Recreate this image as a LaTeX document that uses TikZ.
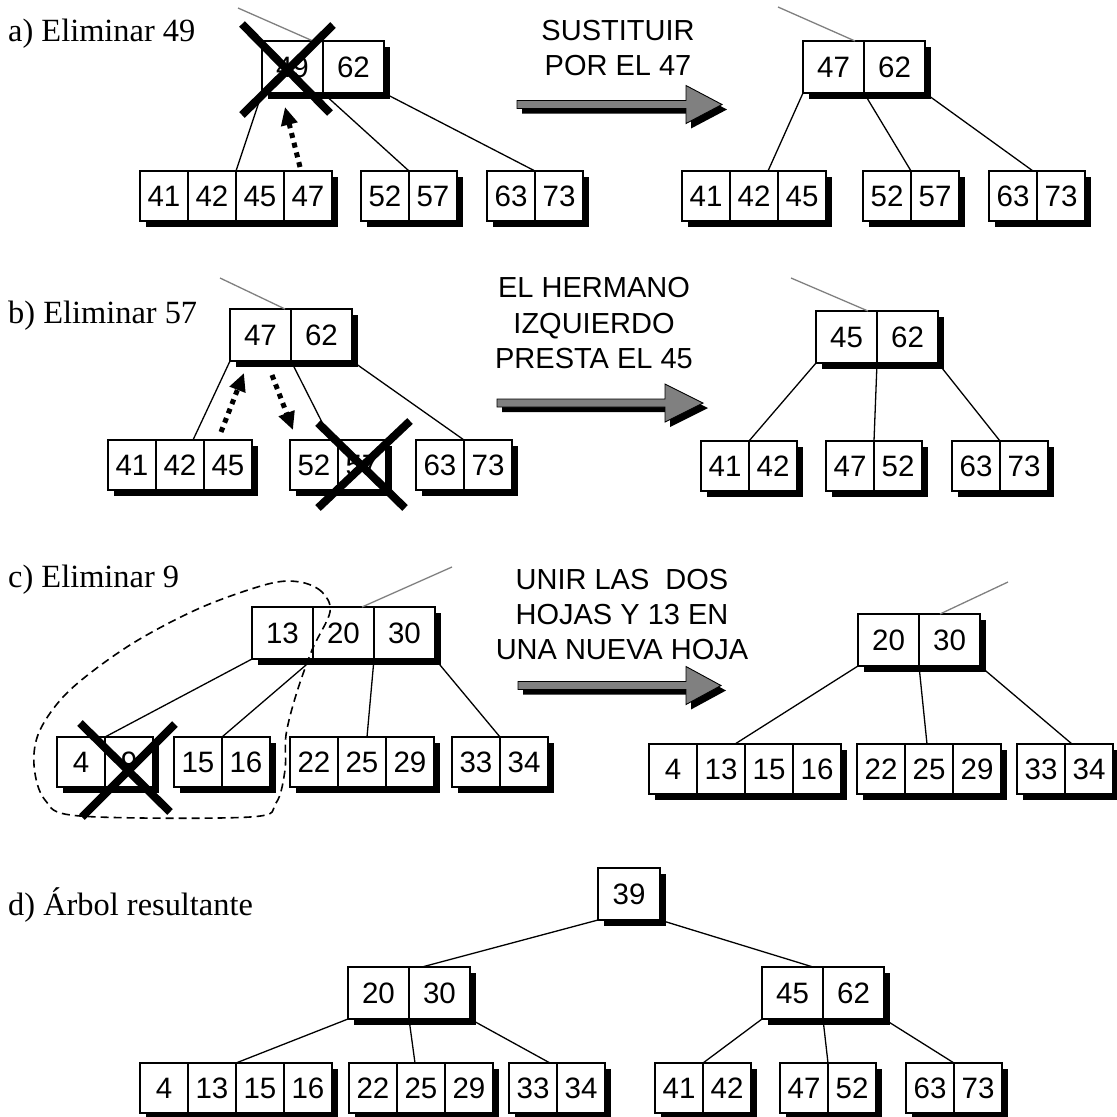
\documentclass[tikz,border=0pt]{standalone}
\usepackage{fontspec}
\setmainfont{Liberation Serif}
\setsansfont{Liberation Sans}
\usetikzlibrary{arrows.meta,calc}
\tikzset{
 cell/.style={draw=black, line width=1.1pt, fill=white, inner sep=0pt, outer sep=0pt, font=\sffamily\fontsize{29.5}{30}\selectfont},
 edge/.style={line width=1.3pt, black},
 rootline/.style={line width=1.3pt, gray},
 cross/.style={line width=8pt, black},
 dotarrow/.style={line width=5pt, dash pattern=on 5pt off 5pt, -{Triangle[length=18pt,width=16pt]}},
 lab/.style={font=\fontsize{32.4}{36}\selectfont, inner sep=0pt, anchor=base west},
 note/.style={font=\sffamily\fontsize{29}{35}\selectfont, inner sep=0pt, anchor=base},
 group/.style={line width=1.6pt, dash pattern=on 8pt off 5pt},
}
% #1 name, #2 x, #3 y, #4 cell width, #5 height, #6 number of cells, #7 labels
\newcommand\bnode[7]{%
  \fill[black] ({#2+6},{#3+6}) rectangle ({#2+6+#4*#6},{#3+6+#5});
  \foreach \lab [count=\i] in {#7}{%
    \node[cell, minimum width=#4pt, minimum height=#5pt, anchor=north west] (#1-\i) at ({#2+(\i-1)*#4},#3) {\lab};
  }%
}
% #1 left x, #2 centre y, #3 head base x, #4 tip x
\newcommand\bigarrow[4]{%
  \fill[black, shift={(5,5)}] (#1,{#2-4}) -- (#3,{#2-4}) -- (#3,{#2-19}) -- (#4,#2) -- (#3,{#2+19}) -- (#3,{#2+4}) -- (#1,{#2+4}) -- cycle;
  \filldraw[fill=gray, draw=black, line width=0.9pt] (#1,{#2-4}) -- (#3,{#2-4}) -- (#3,{#2-19}) -- (#4,#2) -- (#3,{#2+19}) -- (#3,{#2+4}) -- (#1,{#2+4}) -- cycle;
}
\begin{document}
\begin{tikzpicture}[x=1pt,y=-1pt]
\useasboundingbox (0,0) rectangle (1117,1117);
\fill[white] (0,0) rectangle (1117,1117);

% ---------------- a)
\node[lab] (labA) at (8,41) {a) Eliminar 49};
\bnode{aLr}{262}{41}{61}{52}{2}{49,62}
\bnode{aL1}{140}{171}{48}{50}{4}{41,42,45,47}
\bnode{aL2}{361}{171}{48}{50}{2}{52,57}
\bnode{aL3}{487}{171}{48}{50}{2}{63,73}
\coordinate (aLtop) at (238,8);
\draw[rootline] (aLtop) -- ([xshift=51pt]aLr-1.north west);
\draw[edge] (aLr-1.south west) -- (aL1-2.north east);
\draw[edge] (aLr-1.south east) -- (aL2-1.north east);
\draw[edge] (aLr-2.south east) -- (aL3-1.north east);
\draw[cross] (242,24) -- (330,113);
\draw[cross] (333,25) -- (242,115);
\coordinate (aDs) at (300,167);
\coordinate (aDe) at (285,107);
\draw[dotarrow] (aDs) -- (aDe);

\node[note] (tA1) at (618,40) {SUSTITUIR};
\node[note] (tA2) at (618,75) {POR EL 47};
\bigarrow{517}{104.5}{686}{722}

\bnode{aRr}{803}{41}{61}{52}{2}{47,62}
\bnode{aR1}{682}{171}{48}{50}{3}{41,42,45}
\bnode{aR2}{863}{171}{48}{50}{2}{52,57}
\bnode{aR3}{989}{171}{48}{50}{2}{63,73}
\coordinate (aRtop) at (778,7);
\draw[rootline] (aRtop) -- ([xshift=52pt]aRr-1.north west);
\draw[edge] (aRr-1.south west) -- ([xshift=-10pt]aR1-2.north east);
\draw[edge] (aRr-1.south east) -- (aR2-1.north east);
\draw[edge] (aRr-2.south east) -- ([xshift=-4pt]aR3-1.north east);

% ---------------- b)
\node[lab] (labB) at (8,323) {b) Eliminar 57};
\bnode{bLr}{230}{309}{61}{52}{2}{47,62}
\bnode{bL1}{108}{440}{48}{50}{3}{41,42,45}
\bnode{bL2}{290}{440}{48}{50}{2}{52,57}
\bnode{bL3}{416}{440}{48}{50}{2}{63,73}
\coordinate (bLtop) at (220,278);
\draw[rootline] (bLtop) -- ([xshift=55pt]bLr-1.north west);
\draw[edge] (bLr-1.south west) -- ([xshift=-11pt]bL1-2.north east);
\draw[edge] (bLr-1.south east) -- ([xshift=-7pt]bL2-1.north east);
\draw[edge] (bLr-2.south east) -- (bL3-1.north east);
\coordinate (bUs) at (221,432);
\coordinate (bUe) at (244,373);
\coordinate (bDs) at (272,375);
\coordinate (bDe) at (293,430);
\draw[dotarrow] (bUs) -- (bUe);
\draw[dotarrow] (bDs) -- (bDe);
\draw[cross] (318,423) -- (405,508);
\draw[cross] (410,421) -- (318,508);

\node[note] (tB1) at (594,297) {EL HERMANO};
\node[note] (tB2) at (594,333) {IZQUIERDO};
\node[note] (tB3) at (594,368) {PRESTA EL 45};
\bigarrow{497}{403}{665}{703}

\bnode{bRr}{816}{311}{61}{52}{2}{45,62}
\bnode{bR1}{701}{441}{48}{50}{2}{41,42}
\bnode{bR2}{826}{441}{48}{50}{2}{47,52}
\bnode{bR3}{952}{441}{48}{50}{2}{63,73}
\coordinate (bRtop) at (791,278);
\draw[rootline] (bRtop) -- ([xshift=52pt]bRr-1.north west);
\draw[edge] (bRr-1.south west) -- (bR1-1.north east);
\draw[edge] (bRr-1.south east) -- (bR2-1.north east);
\draw[edge] (bRr-2.south east) -- (bR3-1.north east);

% ---------------- c)
\node[lab] (labC) at (8,587) {c) Eliminar 9};
\bnode{cLr}{252}{607}{61}{52}{3}{13,20,30}
\bnode{cL1}{57}{737}{48}{50}{2}{4,9}
\bnode{cL2}{174}{737}{48}{50}{2}{15,16}
\bnode{cL3}{290}{737}{48}{50}{3}{22,25,29}
\bnode{cL4}{452}{737}{48}{50}{2}{33,34}
\coordinate (cLtop) at (452,567);
\draw[rootline] (cLtop) -- ([xshift=110pt]cLr-1.north west);
\draw[edge] (cLr-1.south west) -- (cL1-1.north east);
\draw[edge] (cLr-1.south east) -- (cL2-1.north east);
\draw[edge] (cLr-2.south east) -- ([xshift=29pt]cL3-2.north west);
\draw[edge] (cLr-3.south east) -- (cL4-1.north east);
\draw[cross] (80,723) -- (170,812);
\draw[cross] (175,724) -- (82,817);
\draw[group] plot[smooth cycle, tension=0.55] coordinates {(330,612) (322,592) (300,582) (268,584) (200,608) (130,645) (70,690) (40,730) (34,765) (45,800) (80,816) (250,817) (276,803) (285,770) (286,735) (296,695) (312,650)};

\node[note] (tC1) at (622,589) {UNIR LAS\ \ DOS};
\node[note] (tC2) at (622,624) {HOJAS Y 13 EN};
\node[note] (tC3) at (622,659) {UNA NUEVA HOJA};
\bigarrow{518}{685.5}{686}{721}

\bnode{cRr}{858}{614}{61}{52}{2}{20,30}
\bnode{cR1}{649}{744}{48}{50}{4}{4,13,15,16}
\bnode{cR2}{857}{744}{48}{50}{3}{22,25,29}
\bnode{cR3}{1017}{744}{48}{50}{2}{33,34}
\coordinate (cRtop) at (1008,582);
\draw[rootline] (cRtop) -- ([xshift=82pt]cRr-1.north west);
\draw[edge] (cRr-1.south west) -- ([xshift=-10pt]cR1-2.north east);
\draw[edge] (cRr-1.south east) -- ([xshift=22pt]cR2-2.north west);
\draw[edge] (cRr-2.south east) -- ([xshift=7pt]cR3-1.north east);

% ---------------- d)
\node[lab] (labD) at (8,915) {d) Árbol resultante};
\bnode{dT}{598}{868}{62}{52}{1}{39}
\bnode{dL}{348}{967}{61}{52}{2}{20,30}
\bnode{dR}{762}{967}{61}{52}{2}{45,62}
\bnode{dL1}{140}{1063}{48}{50}{4}{4,13,15,16}
\bnode{dL2}{349}{1063}{48}{50}{3}{22,25,29}
\bnode{dL3}{509}{1063}{48}{50}{2}{33,34}
\bnode{dR1}{655}{1063}{48}{50}{2}{41,42}
\bnode{dR2}{780}{1063}{48}{50}{2}{47,52}
\bnode{dR3}{906}{1063}{48}{50}{2}{63,73}
\draw[edge] (dT-1.south west) -- ([xshift=13pt]dL-1.north east);
\draw[edge] (dT-1.south east) -- ([xshift=-10pt]dR-1.north east);
\draw[edge] (dL-1.south west) -- (dL1-2.north east);
\draw[edge] (dL-1.south east) -- ([xshift=18pt]dL2-2.north west);
\draw[edge] (dL-2.south east) -- ([xshift=-7pt]dL3-1.north east);
\draw[edge] (dR-1.south west) -- (dR1-1.north east);
\draw[edge] (dR-1.south east) -- (dR2-1.north east);
\draw[edge] (dR-2.south east) -- (dR3-1.north east);
\end{tikzpicture}
\end{document}
